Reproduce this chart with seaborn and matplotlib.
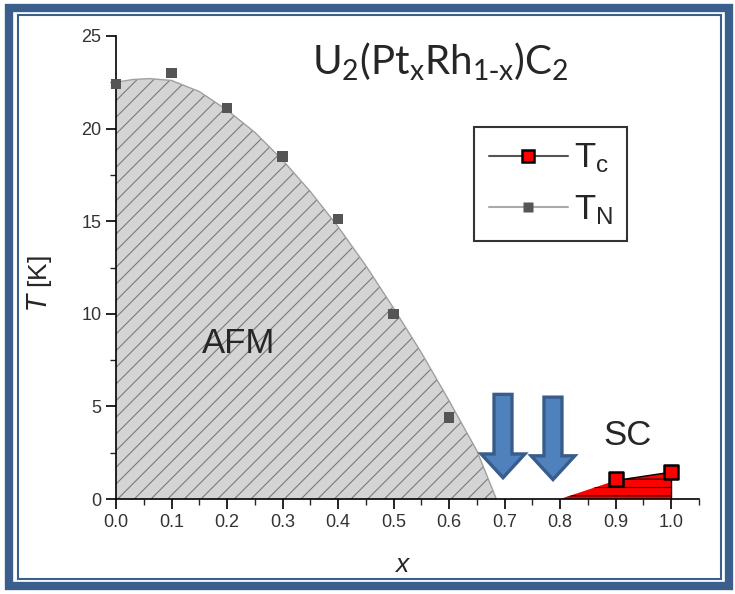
import matplotlib
matplotlib.use("Agg")
import matplotlib.pyplot as plt
from matplotlib.patches import Rectangle
from matplotlib.lines import Line2D
import seaborn as sns
import pandas as pd

# ---- data ----
tn_x = [0.0, 0.1, 0.2, 0.3, 0.4, 0.5, 0.6]
tn_y = [22.4, 23.0, 21.1, 18.5, 15.1, 10.0, 4.4]
tc_x = [0.9, 1.0]
tc_y = [1.1, 1.45]
# boundary curve of AFM phase
afm_x = [0.0, 0.03, 0.06, 0.1, 0.15, 0.2, 0.25, 0.3, 0.35, 0.4, 0.45, 0.5, 0.55, 0.6, 0.65, 0.685]
afm_y = [22.5, 22.65, 22.7, 22.6, 22.0, 21.0, 19.8, 18.3, 16.6, 14.7, 12.6, 10.3, 7.9, 5.3, 2.6, 0.0]
# SC phase region edge
sc_x = [0.80, 0.9, 1.0]
sc_y = [0.0, 1.0, 1.45]
arrow_x = [0.697, 0.787]
arrow_top = [5.65, 5.5]
arrow_tip = [1.15, 1.05]
xticks = [0.0, 0.1, 0.2, 0.3, 0.4, 0.5, 0.6, 0.7, 0.8, 0.9, 1.0]
yticks = [0, 5, 10, 15, 20, 25]

sns.set_style("ticks")
plt.rcParams['font.family'] = ['Liberation Sans', 'DejaVu Sans']
plt.rcParams['hatch.linewidth'] = 0.8
plt.rcParams['mathtext.fontset'] = 'custom'

fig = plt.figure(figsize=(7.35, 5.94), dpi=100)
W, H = 735, 594
ax = fig.add_axes([116 / W, (594 - 499) / H, (699 - 116) / W, (499 - 36) / H])

# frame
fig.patches.append(Rectangle((9 / W, 8 / H), (729 - 9) / W, (586 - 8) / H, transform=fig.transFigure,
                             fill=False, ec='#3B5F8C', lw=6, zorder=-1))
fig.patches.append(Rectangle((17.5 / W, 15.5 / H), (721 - 17.5) / W, (579 - 15.5) / H, transform=fig.transFigure,
                             fill=False, ec='#3B5F8C', lw=1.5, zorder=-1))

# AFM region
ax.fill_between(afm_x, afm_y, 0, facecolor='#D4D4D4', edgecolor='#7A7A7A', hatch='//', linewidth=0, zorder=1)
sns.lineplot(x=afm_x, y=afm_y, ax=ax, color='#A0A0A0', lw=1.0, zorder=2, sort=False)

# SC region
ax.fill_between(sc_x, sc_y, 0, facecolor='#FF0000', edgecolor='#000000', hatch='--', linewidth=0, zorder=1)
ax.plot(sc_x[1:], sc_y[1:], color='black', lw=1.0, zorder=2)
ax.plot([1.0, 1.0], [0, sc_y[-1]], color='black', lw=1.0, zorder=2)

# markers
df_tn = pd.DataFrame({'x': tn_x, 'y': tn_y})
sns.scatterplot(data=df_tn, x='x', y='y', ax=ax, marker='s', s=55, color='#555555', edgecolor='none',
                zorder=4, clip_on=False)
df_tc = pd.DataFrame({'x': tc_x, 'y': tc_y})
sns.scatterplot(data=df_tc, x='x', y='y', ax=ax, marker='s', s=95, color='#FF0000', edgecolor='black',
                linewidth=1.8, zorder=5, clip_on=False)

# arrows
for axx, top, tip in zip(arrow_x, arrow_top, arrow_tip):
    ax.annotate('', xy=(axx, tip), xytext=(axx, top),
                arrowprops=dict(arrowstyle='simple,head_width=1.75,head_length=0.95,tail_width=0.72',
                                mutation_scale=18, fc='#4F81BD', ec='#385D8A', lw=2.4,
                                shrinkA=0, shrinkB=0, joinstyle='miter'),
                zorder=6)

# texts
ax.text(0.22, 8.4, 'AFM', fontsize=25, ha='center', va='center')
ax.text(0.922, 3.45, 'SC', fontsize=25, ha='center', va='center')
fig.text(440 / W, 1 - 62 / H, r'$\mathregular{U_2(Pt_xRh_{1\text{-}x})C_2}$', fontsize=29,
         ha='center', va='center', family=['Lato', 'Open Sans', 'DejaVu Sans'])

# axes
ax.set_xlim(0, 1.05)
ax.set_ylim(0, 25)
ax.set_xticks(xticks)
ax.set_xticklabels([f'{v:.1f}' for v in xticks])
ax.set_yticks(yticks)
ax.set_yticklabels([str(v) for v in yticks])
ax.set_xticks([0.05 + 0.1 * i for i in range(11)], minor=True)
ax.set_yticks([2.5 + 5 * i for i in range(5)], minor=True)
ax.tick_params(axis='both', which='major', direction='out', length=7, width=1.2, labelsize=13, colors='black',
               labelcolor='#333333')
ax.tick_params(axis='both', which='minor', direction='out', length=4, width=1.0)
for s in ['top', 'right']:
    ax.spines[s].set_visible(False)
for s in ['left', 'bottom']:
    ax.spines[s].set_linewidth(1.2)
    ax.spines[s].set_color('black')
ax.set_xlabel('')
ax.set_ylabel('')
fig.text(402 / W, 1 - 565 / H, 'x', fontsize=19, style='italic', ha='center', va='center')
fig.text(40 / W, 1 - 283 / H, r'$\mathit{T}$ [K]', fontsize=19, rotation=90, ha='center', va='center')

# legend
handles = [Line2D([0], [0], color='#555555', lw=1.5, marker='s', markersize=9, markerfacecolor='#FF0000',
                  markeredgecolor='black', markeredgewidth=1.8),
           Line2D([0], [0], color='#AAAAAA', lw=1.5, marker='s', markersize=7, markerfacecolor='#555555',
                  markeredgecolor='none')]
leg = ax.legend(handles, [r'$\mathregular{T_c}$', r'$\mathregular{T_N}$'], loc='upper left',
                bbox_to_anchor=(0.614, 0.803), borderaxespad=0, fontsize=25, handlelength=2.3,
                handletextpad=0.15, labelspacing=0.5, borderpad=0.42, frameon=True, fancybox=False,
                framealpha=1)
leg.get_frame().set_edgecolor('#333333')
leg.get_frame().set_linewidth(1.5)

fig.savefig('out.png', dpi=100)
